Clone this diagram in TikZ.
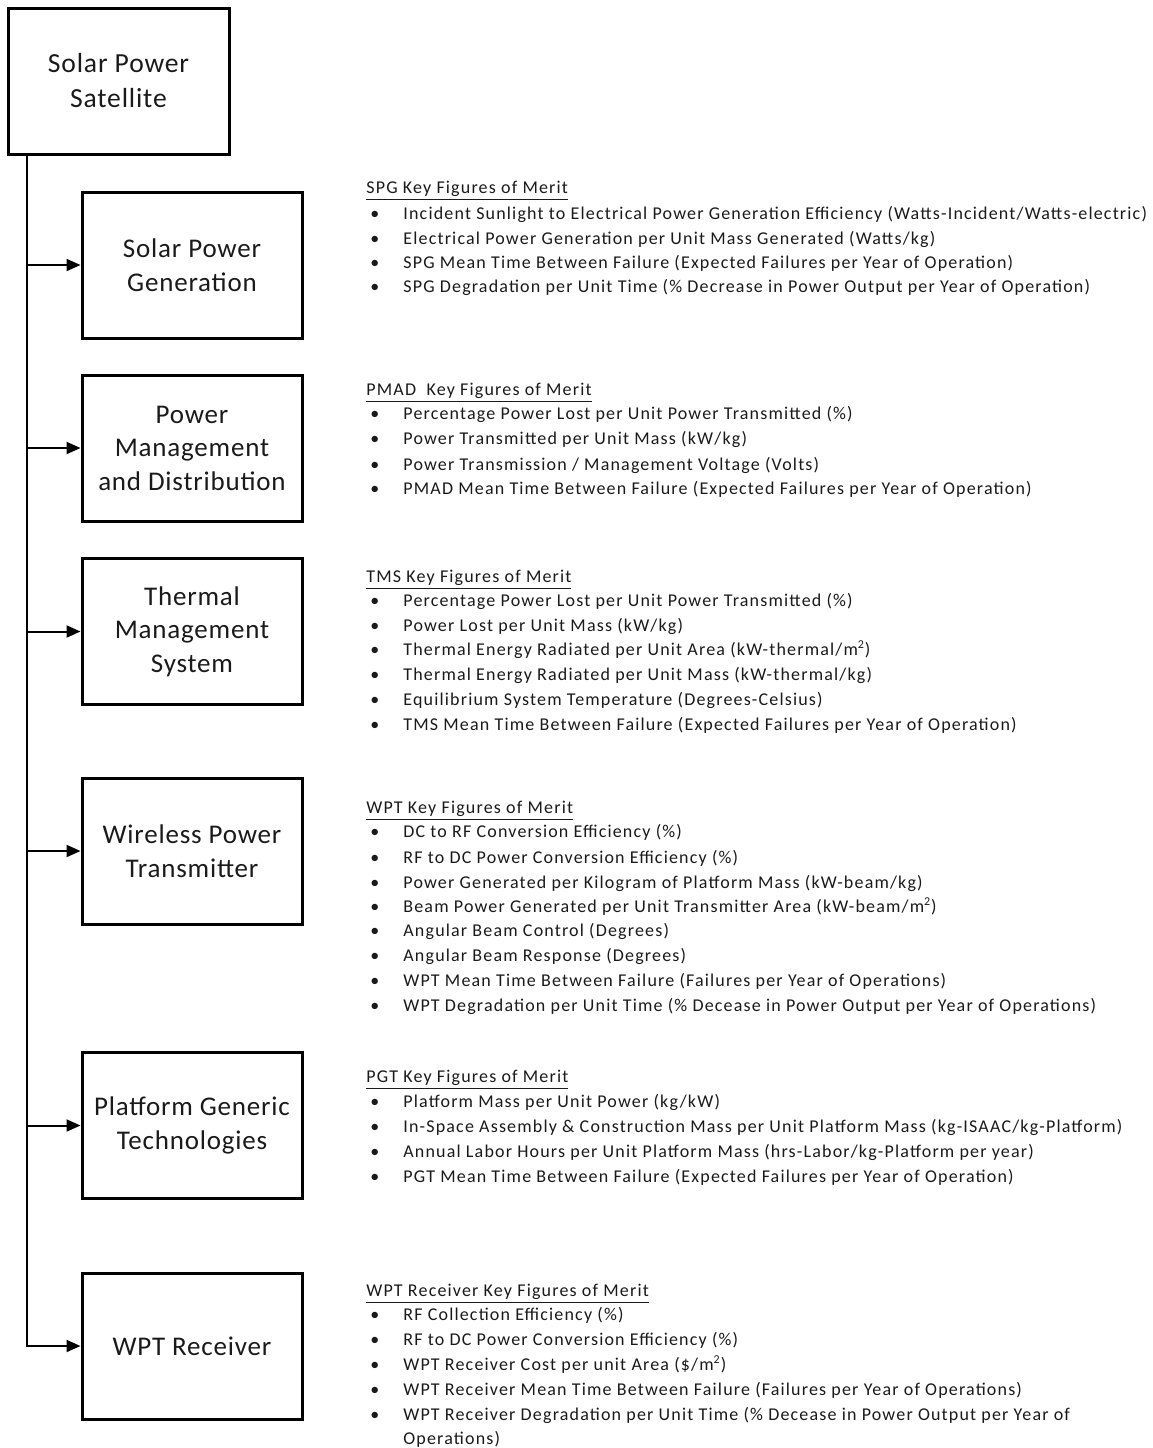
\documentclass[tikz,border=0pt]{standalone}
\usepackage{fontspec}
\setmainfont{Carlito}
\newfontfamily\listfont[LetterSpace=6.5]{Carlito}
\newfontfamily\boxfont[LetterSpace=3]{Carlito}
\usetikzlibrary{arrows.meta}
\definecolor{ink}{HTML}{1A1A1A}
% one bulleted line of a figures-of-merit list
\newcommand{\fomline}[3]{\node[fom] (#1) at (370,#2) {\makebox[16.5pt][l]{\textbullet}#3};}
\newcommand{\fomhead}[3]{\node[fom] (#1) at (366,#2) {\underline{#3}};}
\begin{document}
\begin{tikzpicture}[x=0.5pt,y=-0.5pt,
  blk/.style={draw=black,line width=1.5pt,minimum width=110pt,minimum height=73pt,
    inner sep=0pt,align=center,font=\boxfont\fontsize{13.5}{16.75}\selectfont,text=ink},
  fom/.style={anchor=mid west,inner sep=0pt,yshift=-1pt,font=\listfont\fontsize{9}{10}\selectfont,text=ink},
  link/.style={line width=1pt,-{Triangle[length=7pt,width=6pt]}}]
\useasboundingbox (0,0) rectangle (1153,1448);
% hierarchy boxes
\node[blk,minimum width=110.5pt,font=\boxfont\fontsize{13.8}{17.5}\selectfont] (sps) at (118.5,81) {Solar Power\\Satellite};
\node[blk] (spg) at (192,265) {Solar Power\\Generation};
\node[blk] (pmad) at (192,448) {Power\\Management\\and Distribution};
\node[blk] (tms) at (192,631.5) {Thermal\\Management\\System};
\node[blk] (wpt) at (192,851) {Wireless Power\\Transmitter};
\node[blk] (pgt) at (192,1125.5) {Platform Generic\\Technologies};
\node[blk] (rcv) at (192,1346) {WPT Receiver};
% trunk and branches
\coordinate (trunk) at (27,154);
\draw[link] (trunk) |- (rcv.west);
\foreach \b in {spg,pmad,tms,wpt,pgt}
  \draw[link] (trunk |- \b.west) -- (\b.west);
% SPG
\fomhead{spgh}{187}{SPG Key Figures of Merit}
\fomline{spga}{213}{Incident Sunlight to Electrical Power Generation Efficiency (Watts-Incident/Watts-electric)}
\fomline{spgb}{238}{Electrical Power Generation per Unit Mass Generated (Watts/kg)}
\fomline{spgc}{262}{SPG Mean Time Between Failure (Expected Failures per Year of Operation)}
\fomline{spgd}{286}{SPG Degradation per Unit Time (\% Decrease in Power Output per Year of Operation)}
% PMAD
\fomhead{pmadh}{389}{PMAD\ \ Key Figures of Merit}
\fomline{pmada}{413}{Percentage Power Lost per Unit Power Transmitted (\%)}
\fomline{pmadb}{438}{Power Transmitted per Unit Mass (kW/kg)}
\fomline{pmadc}{464}{Power Transmission / Management Voltage (Volts)}
\fomline{pmadd}{488}{PMAD Mean Time Between Failure (Expected Failures per Year of Operation)}
% TMS
\fomhead{tmsh}{576}{TMS Key Figures of Merit}
\fomline{tmsa}{600}{Percentage Power Lost per Unit Power Transmitted (\%)}
\fomline{tmsb}{625}{Power Lost per Unit Mass (kW/kg)}
\fomline{tmsc}{649}{Thermal Energy Radiated per Unit Area (kW-thermal/m\textsuperscript{2})}
\fomline{tmsd}{674}{Thermal Energy Radiated per Unit Mass (kW-thermal/kg)}
\fomline{tmse}{699}{Equilibrium System Temperature (Degrees-Celsius)}
\fomline{tmsf}{724}{TMS Mean Time Between Failure (Expected Failures per Year of Operation)}
% WPT
\fomhead{wpth}{807}{WPT Key Figures of Merit}
\fomline{wpta}{831}{DC to RF Conversion Efficiency (\%)}
\fomline{wptb}{857}{RF to DC Power Conversion Efficiency (\%)}
\fomline{wptc}{882}{Power Generated per Kilogram of Platform Mass (kW-beam/kg)}
\fomline{wptd}{906}{Beam Power Generated per Unit Transmitter Area (kW-beam/m\textsuperscript{2})}
\fomline{wpte}{930}{Angular Beam Control (Degrees)}
\fomline{wptf}{955}{Angular Beam Response (Degrees)}
\fomline{wptg}{980}{WPT Mean Time Between Failure (Failures per Year of Operations)}
\fomline{wpti}{1005}{WPT Degradation per Unit Time (\% Decease in Power Output per Year of Operations)}
% PGT
\fomhead{pgth}{1076}{PGT Key Figures of Merit}
\fomline{pgta}{1101}{Platform Mass per Unit Power (kg/kW)}
\fomline{pgtb}{1126}{In-Space Assembly \& Construction Mass per Unit Platform Mass (kg-ISAAC/kg-Platform)}
\fomline{pgtc}{1151}{Annual Labor Hours per Unit Platform Mass (hrs-Labor/kg-Platform per year)}
\fomline{pgtd}{1176}{PGT Mean Time Between Failure (Expected Failures per Year of Operation)}
% WPT receiver
\fomhead{rcvh}{1290}{WPT Receiver Key Figures of Merit}
\fomline{rcva}{1314}{RF Collection Efficiency (\%)}
\fomline{rcvb}{1339}{RF to DC Power Conversion Efficiency (\%)}
\fomline{rcvc}{1364}{WPT Receiver Cost per unit Area (\$/m\textsuperscript{2})}
\fomline{rcvd}{1389}{WPT Receiver Mean Time Between Failure (Failures per Year of Operations)}
\fomline{rcve}{1414}{WPT Receiver Degradation per Unit Time (\% Decease in Power Output per Year of}
\node[fom] (rcvf) at (403,1438) {Operations)};
\end{tikzpicture}
\end{document}
